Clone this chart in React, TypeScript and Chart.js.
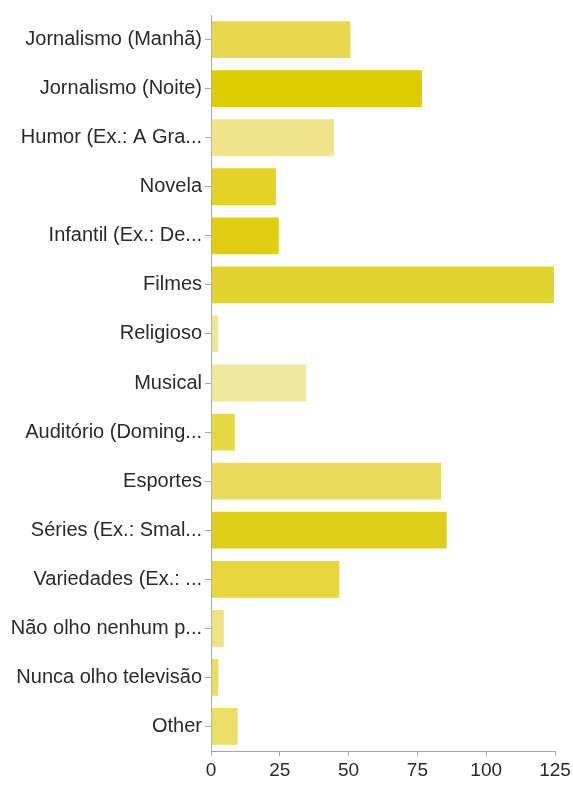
import React, { useEffect, useRef } from "react";
import { Chart, registerables } from "chart.js";

Chart.register(...registerables);

const categories = [
  "Jornalismo (Manhã)",
  "Jornalismo (Noite)",
  "Humor (Ex.: A Gra...",
  "Novela",
  "Infantil (Ex.: De...",
  "Filmes",
  "Religioso",
  "Musical",
  "Auditório (Doming...",
  "Esportes",
  "Séries (Ex.: Smal...",
  "Variedades (Ex.: ...",
  "Não olho nenhum p...",
  "Nunca olho televisão",
  "Other",
];

const values = [51, 77, 45, 24, 25, 125, 3, 35, 9, 84, 86, 47, 5, 3, 10];

const barColors = [
  "#e6d94f",
  "#dccc00",
  "#efe48a",
  "#e2d324",
  "#dfcd0f",
  "#e2d42e",
  "#efe59a",
  "#f0e89c",
  "#e6d944",
  "#e7dc5e",
  "#dfcf1a",
  "#e5d73c",
  "#ede27c",
  "#e8dd5f",
  "#e9de66",
];

const xTicks = [0, 25, 50, 75, 100, 125];

export default function App() {
  const ref = useRef<HTMLCanvasElement | null>(null);

  useEffect(() => {
    if (!ref.current) return;
    const chart = new Chart(ref.current, {
      type: "bar",
      data: {
        labels: categories,
        datasets: [
          {
            data: values,
            backgroundColor: barColors,
            borderColor: "rgba(255,255,255,0.35)",
            borderWidth: 1,
            categoryPercentage: 0.79,
            barPercentage: 1.0,
          },
        ],
      },
      options: {
        indexAxis: "y",
        animation: false,
        responsive: true,
        maintainAspectRatio: false,
        layout: { padding: { top: 15, right: 0, bottom: 0, left: 0 } },
        plugins: { legend: { display: false }, tooltip: { enabled: false } },
        scales: {
          x: {
            min: 0,
            max: 125,
            afterBuildTicks: (axis: any) => {
              axis.ticks = xTicks.map((v) => ({ value: v }));
            },
            afterFit: (axis: any) => {
              axis.paddingRight = 18;
            },
            grid: {
              drawOnChartArea: false,
              drawTicks: true,
              tickLength: 5,
              color: "#a8a8a8",
            },
            border: { display: true, color: "#a8a8a8", width: 1 },
            ticks: {
              color: "#2a2a2a",
              font: { family: "Liberation Sans, Arial, sans-serif", size: 19, lineHeight: 1 },
              padding: 5,
              maxRotation: 0,
            },
          },
          y: {
            grid: {
              drawOnChartArea: false,
              drawTicks: true,
              tickLength: 6,
              offset: false,
              color: "#a8a8a8",
            },
            border: { display: true, color: "#a8a8a8", width: 1 },
            ticks: {
              color: "#2a2a2a",
              font: { family: "Liberation Sans, Arial, sans-serif", size: 20 },
              padding: 3,
              autoSkip: false,
            },
            afterFit: (axis: any) => {
              axis.width = 211;
            },
          },
        },
      },
    });
    return () => chart.destroy();
  }, []);

  return (
    <div style={{ position: "fixed", left: 0, top: 0, width: 573, height: 785, background: "#fff" }}>
      <canvas ref={ref} />
    </div>
  );
}
